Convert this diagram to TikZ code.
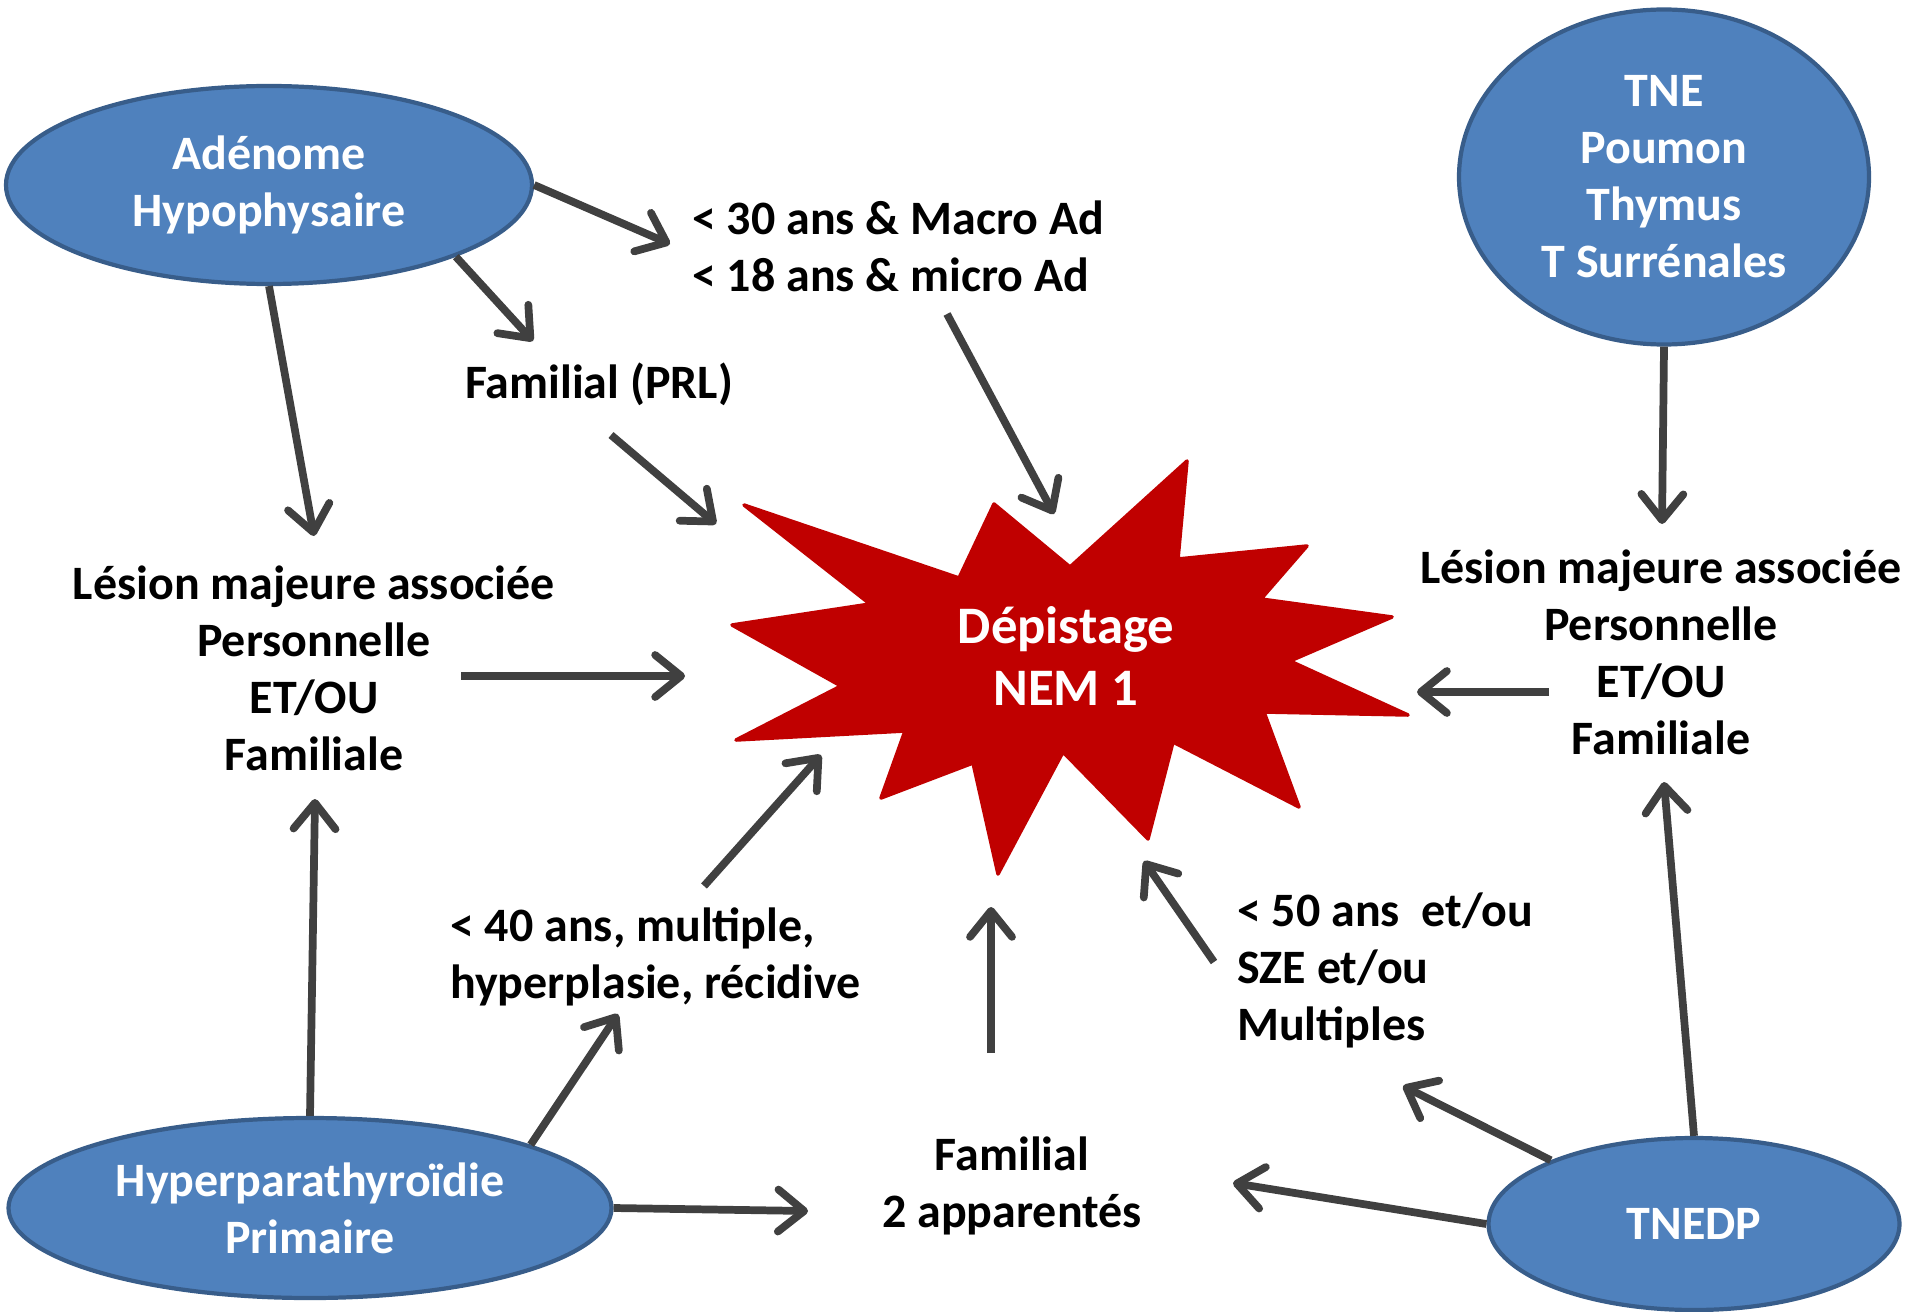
\documentclass[tikz,border=0pt]{standalone}
\usepackage{fontspec}
\setmainfont{Carlito}
\usetikzlibrary{shapes.geometric,arrows.meta}
\definecolor{orgfill}{HTML}{4F81BD}
\definecolor{orgline}{HTML}{385D8A}
\definecolor{nemred}{HTML}{C00000}
\definecolor{linkgray}{HTML}{404040}
\begin{document}
\begin{tikzpicture}
  [
    font=\fontsize{13.65}{16.2}\selectfont\bfseries,
    organ/.style={ellipse,draw=orgline,fill=orgfill,line width=1.2pt,text=white,align=center,inner sep=0mm},
    crit/.style={align=center,inner sep=1pt},
    critleft/.style={align=left,anchor=west,inner sep=1pt},
    link/.style={draw=linkgray,line width=2.2pt,line join=round,
      -{Straight Barb[length=2.6mm,width=4.2mm,line width=2.2pt,round]}},
  ]
  \useasboundingbox (0,0) rectangle (19.09,-13.11);

  % the star
  \filldraw[fill=nemred,draw=nemred,line width=1pt,line join=round]
    (7.44,-5.05) -- (9.59,-5.78) -- (9.94,-5.04) -- (10.70,-5.67) -- (11.87,-4.61)
    -- (11.78,-5.59) -- (13.07,-5.46) -- (12.61,-5.99) -- (13.92,-6.17) -- (12.90,-6.61)
    -- (14.08,-7.15) -- (12.64,-7.12) -- (12.99,-8.07) -- (11.73,-7.42) -- (11.48,-8.39)
    -- (10.63,-7.52) -- (9.98,-8.74) -- (9.73,-7.63) -- (8.81,-7.98) -- (9.05,-7.31)
    -- (7.36,-7.40) -- (8.41,-6.86) -- (7.32,-6.25) -- (8.70,-6.04) -- cycle;
  \node (nem) at (10.66,-6.56) [crit,text=white,font=\fontsize{15}{17.8}\selectfont\bfseries] {Dépistage\\NEM 1};

  % ellipses
  \node (adeno) at (2.69,-1.85) [organ,minimum width=5.26cm,minimum height=1.98cm] {Adénome\\Hypophysaire};
  \node (tne) at (16.64,-1.77) [organ,minimum width=4.10cm,minimum height=3.35cm] {TNE\\Poumon\\Thymus\\T Surrénales};
  \node (hpt) at (3.10,-12.08) [organ,minimum width=6.03cm,minimum height=1.80cm] {Hyperparathyroïdie\\Primaire};
  \node (tnedp) at (16.94,-12.24) [organ,minimum width=4.11cm,minimum height=1.72cm] {TNEDP};

  % criteres
  \node (age1) at (6.88,-2.46) [critleft] {< 30 ans \& Macro Ad\\< 18 ans \& micro Ad};
  \node (prl) at (5.99,-3.84) [crit] {Familial (PRL)};
  \node (lesg) at (3.14,-6.68) [crit] {Lésion majeure associée\\Personnelle\\ET/OU\\Familiale};
  \node (lesd) at (16.61,-6.52) [crit] {Lésion majeure associée\\Personnelle\\ET/OU\\Familiale};
  \node (age2) at (4.46,-9.57) [critleft] {< 40 ans, multiple,\\hyperplasie, récidive};
  \node (age3) at (12.33,-9.70) [critleft] {< 50 ans~~et/ou\\SZE et/ou\\Multiples};
  \node (fam) at (10.12,-11.86) [crit] {Familial\\2 apparentés};

  % free ends
  \coordinate (t1) at (6.70,-2.44);
  \coordinate (t2) at (5.33,-3.41);
  \coordinate (t3) at (3.14,-5.36);
  \coordinate (f4) at (9.47,-3.14);
  \coordinate (t4) at (10.54,-5.14);
  \coordinate (f5) at (6.11,-4.35);
  \coordinate (t5) at (7.16,-5.24);
  \coordinate (f6) at (4.61,-6.76);
  \coordinate (t6) at (6.85,-6.76);
  \coordinate (t7) at (3.15,-7.99);
  \coordinate (t8) at (6.18,-10.14);
  \coordinate (f9) at (7.04,-8.86);
  \coordinate (t9) at (8.21,-7.55);
  \coordinate (t10) at (8.08,-12.11);
  \coordinate (f11) at (9.91,-10.53);
  \coordinate (t11) at (9.91,-9.07);
  \coordinate (t12) at (12.33,-11.83);
  \coordinate (t13) at (14.03,-10.86);
  \coordinate (f14) at (12.14,-9.62);
  \coordinate (t14) at (11.44,-8.61);
  \coordinate (t15) at (16.64,-7.82);
  \coordinate (f16) at (15.49,-6.92);
  \coordinate (t16) at (14.17,-6.92);
  \coordinate (t17) at (16.62,-5.24);

  % arrows
  \draw[link] (adeno.east) -- (t1);
  \draw[link] (adeno.-21) -- (t2);
  \draw[link] (adeno.south) -- (t3);
  \draw[link] (f4) -- (t4);
  \draw[link] (f5) -- (t5);
  \draw[link] (f6) -- (t6);
  \draw[link] (hpt.north) -- (t7);
  \draw[link] (hpt.16) -- (t8);
  \draw[link] (f9) -- (t9);
  \draw[link] (hpt.east) -- (t10);
  \draw[link] (f11) -- (t11);
  \draw[link] (tnedp.west) -- (t12);
  \draw[link] (tnedp.156) -- (t13);
  \draw[link] (f14) -- (t14);
  \draw[link] (tnedp.north) -- (t15);
  \draw[link] (f16) -- (t16);
  \draw[link] (tne.south) -- (t17);
\end{tikzpicture}
\end{document}
